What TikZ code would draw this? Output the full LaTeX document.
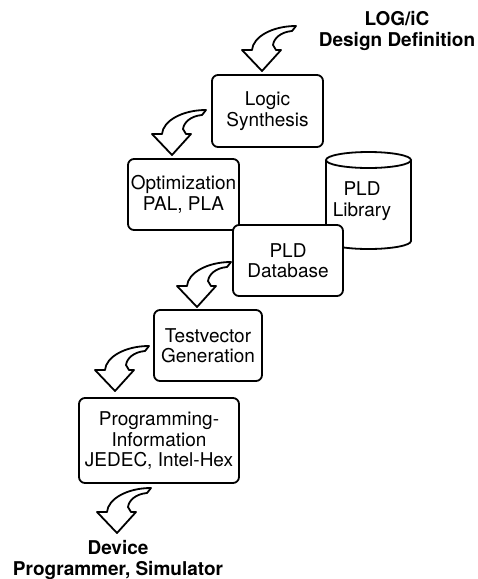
\documentclass[tikz,border=0pt]{standalone}
\usepackage{fontspec}
\setmainfont{TeX Gyre Heros}
\begin{document}
\begin{tikzpicture}[x=1pt,y=-1pt,
  stepbox/.style={draw,line width=1.8pt,rounded corners=6pt,fill=white,align=center,
    inner sep=0pt,font=\fontsize{19}{20.5}\selectfont},
  lbl/.style={align=center,inner sep=0pt,font=\fontsize{19}{20.5}\selectfont\bfseries},
  bolt/.pic={\draw[line width=1.8pt,line join=round,fill=white]
    (0,0) -- (-20,-21) -- (-10,-21) .. controls (-9,-34) and (10,-45) .. (34,-45)
    -- (30,-40) .. controls (19,-39) and (12,-33) .. (11,-26) -- (14,-21) -- (19,-21) -- cycle;}
]
\useasboundingbox (0,0) rectangle (478,579);
% texts
\node[lbl] (src) at (397,31) {LOG/iC\\Design Definition};
\node[lbl] (dst) at (118,560) {Device\\Programmer, Simulator};
% cylinder
\draw[line width=1.8pt,fill=white] (326,160) -- (326,241)
  arc[start angle=180,end angle=0,x radius=42.5,y radius=8] -- (411,160);
\draw[line width=1.8pt] (368.5,160) ellipse[x radius=42.5,y radius=8];
\node[align=center,inner sep=0pt,font=\fontsize{19}{20.5}\selectfont] (lib) at (362,201) {PLD\\Library};
% boxes
\node[stepbox,minimum width=111pt,minimum height=72pt] (ls) at (267.5,111) {Logic\\Synthesis};
\node[stepbox,minimum width=111pt,minimum height=71pt] (opt) at (183.5,194.5) {Optimization\\PAL, PLA};
\node[stepbox,minimum width=110pt,minimum height=71pt] (db) at (288,260.5) {PLD\\Database};
\node[stepbox,minimum width=108pt,minimum height=71pt] (tv) at (208,345.5) {Testvector\\Generation};
\node[stepbox,minimum width=160pt,minimum height=85pt] (prog) at (159,440.5) {Programming-\\Information\\JEDEC, Intel-Hex};
% bolt arrows
\pic at (262,71) {bolt};
\pic at (172,155) {bolt};
\pic at (197,307) {bolt};
\pic at (115,391) {bolt};
\pic at (117,533) {bolt};
\end{tikzpicture}
\end{document}
